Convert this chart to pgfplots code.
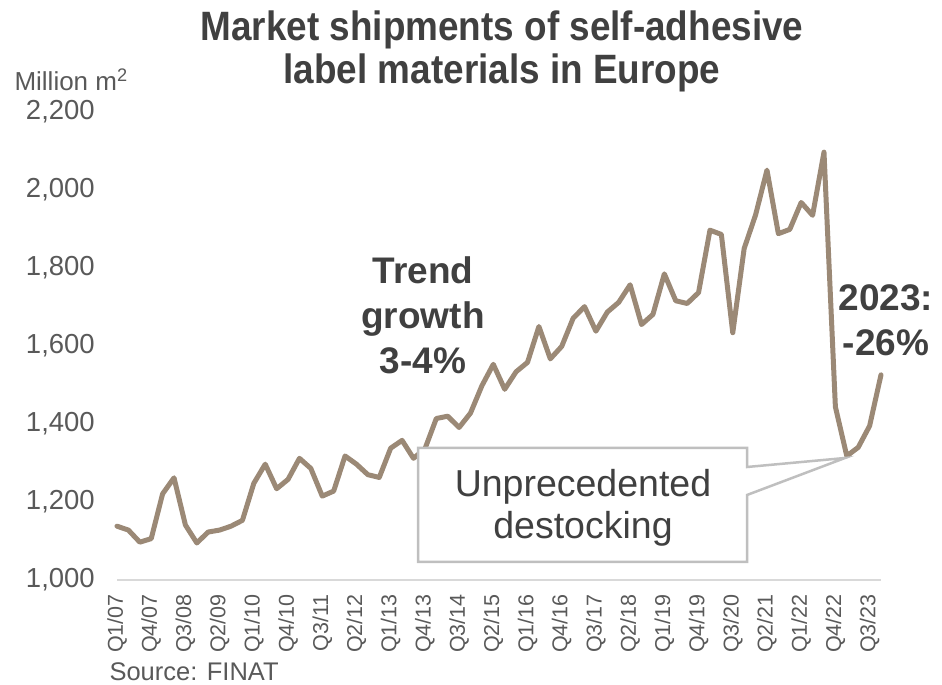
\documentclass[border=0pt]{standalone}
\usepackage{pgfplots}
\pgfplotsset{compat=1.18}
\usepackage{fontspec}
\setmainfont{Liberation Sans}
\newfontfamily\titlefont[FakeStretch=0.9]{Liberation Sans}
\definecolor{linebrown}{RGB}{155,137,118}
\definecolor{titlegray}{RGB}{64,64,64}
\definecolor{tickgray}{RGB}{89,89,89}
\definecolor{axisgray}{RGB}{217,217,217}
\definecolor{boxgray}{RGB}{191,191,191}
\begin{document}
\begin{tikzpicture}[x=1pt,y=1pt]
\useasboundingbox (0,0) rectangle (942,685);
\begin{axis}[
  at={(117pt,105pt)}, anchor=south west,
  scale only axis, width=764pt, height=468pt,
  xmin=0, xmax=67, ymin=1000, ymax=2200,
  axis x line*=bottom, axis y line*=left,
  x axis line style={draw=axisgray, line width=2.5pt, -},
  y axis line style={draw=none, -},
  major tick length=0pt,
  ytick={1000,1200,...,2200},
  xtick={0,3,...,66},
  xticklabels={Q1/07,Q4/07,Q3/08,Q2/09,Q1/10,Q4/10,Q3/11,Q2/12,Q1/13,Q4/13,Q3/14,Q2/15,Q1/16,Q4/16,Q3/17,Q2/18,Q1/19,Q4/19,Q3/20,Q2/21,Q1/22,Q4/22,Q3/23},
  /pgf/number format/assume math mode=true,
  /pgf/number format/1000 sep={,},
  yticklabel style={font=\fontsize{27.5}{27.5}\selectfont, text=tickgray, anchor=east, inner sep=0pt},
  yticklabel shift=22pt,
  xticklabel style={font=\fontsize{21.5}{21.5}\selectfont, text=tickgray, rotate=90, anchor=east, inner sep=0pt},
  xticklabel shift=14pt,
  clip=false,
]
\addplot[color=linebrown, line width=5pt, line join=round, line cap=round] coordinates {
(0,1138)(1,1128)(2,1097)(3,1106)(4,1221)(5,1262)(6,1141)(7,1095)(8,1123)(9,1128)
(10,1138)(11,1153)(12,1248)(13,1297)(14,1234)(15,1258)(16,1312)(17,1286)(18,1215)(19,1228)
(20,1318)(21,1297)(22,1270)(23,1263)(24,1338)(25,1358)(26,1312)(27,1336)(28,1414)(29,1420)
(30,1391)(31,1428)(32,1498)(33,1553)(34,1489)(35,1534)(36,1558)(37,1650)(38,1567)(39,1599)
(40,1671)(41,1701)(42,1638)(43,1687)(44,1712)(45,1757)(46,1655)(47,1681)(48,1785)(49,1716)
(50,1709)(51,1737)(52,1897)(53,1886)(54,1634)(55,1850)(56,1936)(57,2051)(58,1888)(59,1899)
(60,1968)(61,1935)(62,2097)(63,1444)(64,1318)(65,1340)(66,1395)(67,1526)
};
\end{axis}
% callout
\draw[boxgray, line width=2.5pt, fill=white, line join=miter]
  (418,237) -- (747,237) -- (747,218) -- (845,227) -- (747,190) -- (747,123) -- (418,123) -- cycle;
\node[text=titlegray, align=center, font=\fontsize{37.5}{42}\selectfont] at (583,177) {Unprecedented\\destocking};
% titles
\node[text=titlegray, align=center, font=\titlefont\fontsize{41}{43}\selectfont\bfseries] at (502,634) {Market shipments of self-adhesive\\label materials in Europe};
\node[text=tickgray, anchor=west, font=\fontsize{26}{26}\selectfont] at (11,605) {Million m\textsuperscript{2}};
\node[text=titlegray, align=center, font=\fontsize{37}{45}\selectfont\bfseries] at (423,370) {Trend\\growth\\3-4\%};
\node[text=titlegray, align=center, font=\fontsize{37}{45}\selectfont\bfseries] at (886,365) {2023:\\-26\%};
\node[text=tickgray, anchor=west, font=\fontsize{25.5}{25.5}\selectfont] at (106,13) {Source: FINAT};
\end{tikzpicture}
\end{document}
